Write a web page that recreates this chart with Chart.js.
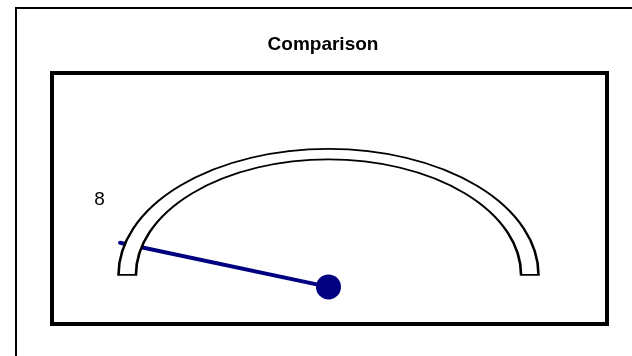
<!DOCTYPE html>
<html>
<head>
<meta charset="utf-8">
<title>Comparison</title>
<script src="https://cdn.jsdelivr.net/npm/chart.js@4.4.1/dist/chart.umd.min.js"></script>
<style>
  html, body { margin: 0; padding: 0; background: #fff; }
  canvas { display: block; }
</style>
</head>
<body>
<canvas id="gauge" width="632" height="356"></canvas>
<script>
// gauge data
const gaugeTitle = 'Comparison';
const gaugeMin = 0;
const gaugeMax = 100;
const gaugeValue = 8;
const valueLabels = ['8'];

const NAVY = '#000080';
const SQUASH = 0.6;      // dial is a flattened half ellipse
const PIVOT_DROP = 12;   // needle hub sits a bit below the dial centre

const gaugePlugin = {
    id: 'gauge',
    beforeDraw(chart) {
        const ctx = chart.ctx;
        ctx.save();
        ctx.fillStyle = '#fff';
        ctx.fillRect(0, 0, chart.width, chart.height);
        ctx.strokeStyle = '#000';
        ctx.lineJoin = 'miter';
        // outer frame (right / bottom edges run off the picture)
        ctx.lineWidth = 2;
        ctx.strokeRect(16, 8, chart.width, chart.height);
        // plot frame
        ctx.lineWidth = 4;
        ctx.strokeRect(52, 73, 555, 251);
        ctx.restore();
    },
    afterLayout(chart) {
        // title is centred in the outer frame, the dial in the plot frame
        const a = chart.chartArea;
        a.left = 54;
        a.right = 603;
        a.width = a.right - a.left;
    },
    beforeDatasetsDraw(chart) {
        const ctx = chart.ctx;
        const arc = chart.getDatasetMeta(0).data[0];
        const {x, y, startAngle, endAngle, outerRadius} =
            arc.getProps(['x', 'y', 'startAngle', 'endAngle', 'outerRadius']);
        const t = (gaugeValue - gaugeMin) / (gaugeMax - gaugeMin);
        const ang = startAngle + t * (endAngle - startAngle);
        const r = outerRadius * 1.025;

        // needle goes under the dial
        ctx.save();
        ctx.strokeStyle = NAVY;
        ctx.lineWidth = 4;
        ctx.lineCap = 'round';
        ctx.beginPath();
        ctx.moveTo(x, y + PIVOT_DROP);
        ctx.lineTo(x + Math.cos(ang) * r, y + Math.sin(ang) * r * SQUASH);
        ctx.stroke();
        ctx.restore();

        // flatten the doughnut into an ellipse
        ctx.save();
        ctx.translate(x, y);
        ctx.scale(1, SQUASH);
        ctx.translate(-x, -y);
    },
    afterDatasetsDraw(chart) {
        const ctx = chart.ctx;
        ctx.restore();
        const arc = chart.getDatasetMeta(0).data[0];
        const {x, y} = arc.getProps(['x', 'y']);

        // hub
        ctx.save();
        ctx.fillStyle = NAVY;
        ctx.beginPath();
        ctx.arc(x, y + PIVOT_DROP, 12.5, 0, Math.PI * 2);
        ctx.fill();

        // value label
        ctx.fillStyle = '#000';
        ctx.font = '19px "Liberation Sans", Arial, sans-serif';
        ctx.textAlign = 'center';
        ctx.textBaseline = 'middle';
        ctx.fillText(valueLabels[0], x - 229, y - 75);
        ctx.restore();
    }
};

new Chart(document.getElementById('gauge'), {
    type: 'doughnut',
    data: {
        labels: [gaugeTitle],
        datasets: [{
            data: [gaugeMax - gaugeMin],
            backgroundColor: '#fff',
            borderColor: '#000',
            borderWidth: 2.6,
            borderAlign: 'center',
            borderJoinStyle: 'miter',
            clip: false
        }]
    },
    options: {
        responsive: false,
        animation: false,
        events: [],
        rotation: -90,
        circumference: 180,
        radius: 210,
        cutout: '91.7%',
        layout: {
            padding: { left: 15, right: 1, top: 0, bottom: 89 }
        },
        plugins: {
            legend: { display: false },
            tooltip: { enabled: false },
            title: {
                display: true,
                text: gaugeTitle,
                color: '#000',
                font: { family: '"Liberation Sans", Arial, sans-serif', size: 19, weight: 'bold' },
                padding: { top: 33, bottom: 17 }
            }
        }
    },
    plugins: [gaugePlugin]
});
</script>
</body>
</html>
